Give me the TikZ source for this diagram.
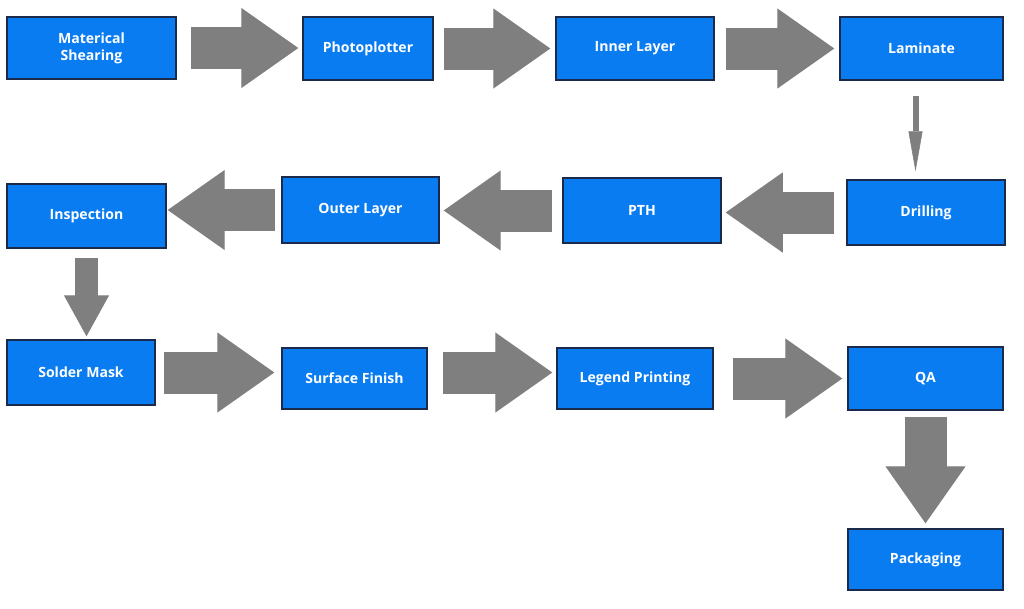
\documentclass[tikz,border=0pt]{standalone}
\usepackage{fontspec}
\setmainfont{Open Sans}
\usetikzlibrary{arrows.meta}
\definecolor{boxblue}{HTML}{0A7CF2}
\definecolor{boxline}{HTML}{1B2A4A}
\definecolor{arrgray}{HTML}{7F7F7F}
\tikzstyle{pbox}=[rectangle, draw=boxline, line width=1pt, fill=boxblue, text=white, font=\bfseries\fontsize{10}{12}\selectfont, align=center, inner sep=0pt]
\tikzstyle{blk}=[draw=arrgray, line width=1.05cm, -{Triangle[width=2cm, length=1.425cm, line width=0.8pt]}]
\tikzstyle{blksmall}=[draw=arrgray, line width=0.575cm, -{Triangle[width=1.125cm, length=1.025cm, line width=0.8pt]}]
\tikzstyle{thinarr}=[draw=arrgray, line width=0.15cm, -{Triangle[width=0.35cm, length=1cm, line width=0.4pt]}]

\begin{document}
\begin{tikzpicture}[x=0.025cm, y=-0.025cm]
\useasboundingbox (0,0) rectangle (1024,608);

\node[pbox, minimum width=4.225cm, minimum height=1.55cm] (n1) at (91.5,48) {Materical\\Shearing};
\node[pbox, minimum width=3.25cm, minimum height=1.575cm] (n2) at (368,48.5) {Photoplotter};
\node[pbox, minimum width=3.95cm, minimum height=1.575cm] (n3) at (635,48.5) {Inner Layer};
\node[pbox, minimum width=4.075cm, minimum height=1.575cm] (n4) at (921.5,48.5) {Laminate};

\node[pbox, minimum width=3.95cm, minimum height=1.625cm] (n5) at (926,212.5) {Drilling};
\node[pbox, minimum width=3.95cm, minimum height=1.625cm] (n6) at (642,210.5) {PTH};
\node[pbox, minimum width=3.925cm, minimum height=1.65cm] (n7) at (360.5,210) {Outer Layer};
\node[pbox, minimum width=3.975cm, minimum height=1.6cm] (n8) at (86.5,216) {Inspection};

\node[pbox, minimum width=3.7cm, minimum height=1.625cm] (n9) at (81,372.5) {Solder Mask};
\node[pbox, minimum width=3.625cm, minimum height=1.525cm] (n10) at (354.5,378.5) {Surface Finish};
\node[pbox, minimum width=3.9cm, minimum height=1.525cm] (n11) at (635,378.5) {Legend Printing};
\node[pbox, minimum width=3.875cm, minimum height=1.575cm] (n12) at (925.5,378.5) {QA};
\node[pbox, minimum width=3.875cm, minimum height=1.525cm] (n13) at (925.5,559.5) {Packaging};

% top row
\draw[blk, shorten <=0.35cm, shorten >=0.1cm] (n1.east) -- (n1.east -| n2.west);
\draw[blk, shorten <=0.25cm, shorten >=0.125cm] (n2.east) -- (n2.east -| n3.west);
\draw[blk, shorten <=0.275cm, shorten >=0.125cm] (n3.east) -- (n3.east -| n4.west);
\draw[thinarr, shorten <=0.375cm, shorten >=0.2cm] ([xshift=-0.15cm]n4.south) -- ([xshift=-0.15cm]n4.south |- n5.north);

% middle row
\draw[blk, shorten <=0.3cm, shorten >=0.1cm] (n5.west) -- (n5.west -| n6.east);
\draw[blk, shorten <=0.25cm, shorten >=0.1cm] (n6.west) -- (n6.west -| n7.east);
\draw[blk, shorten <=0.15cm, shorten >=0.025cm] (n7.west) -- (n7.west -| n8.east);
\draw[blksmall, shorten <=0.225cm, shorten >=0.075cm] (n8.south) -- (n8.south |- n9.north);

% bottom row
\draw[blk, shorten <=0.2cm, shorten >=0.175cm] (n9.east) -- (n9.east -| n10.west);
\draw[blk, shorten <=0.375cm, shorten >=0.1cm] ([yshift=0.15cm]n10.east) -- ([yshift=0.15cm]n10.east -| n11.west);
\draw[blk, shorten <=0.475cm, shorten >=0.125cm] (n11.east) -- (n11.east -| n12.west);
\draw[blk, shorten <=0.15cm, shorten >=0.125cm] (n12.south) -- (n12.south |- n13.north);

\end{tikzpicture}
\end{document}
